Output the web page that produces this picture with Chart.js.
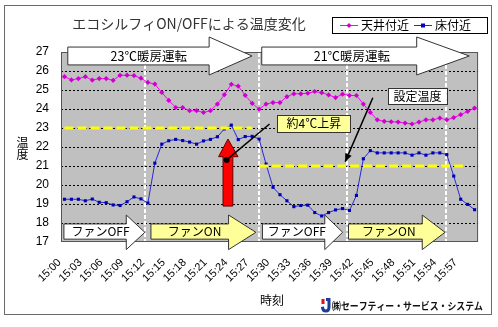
<!DOCTYPE html>
<html><head><meta charset="utf-8">
<script src="https://cdn.jsdelivr.net/npm/chart.js@4/dist/chart.umd.min.js"></script>
<style>html,body{margin:0;padding:0;background:#fff;}canvas{display:block;}</style>
</head><body>
<canvas id="c" width="498" height="327"></canvas>
<script>
// ---------- data ----------
const chartTitle = 'エコシルフィON/OFFによる温度変化';
const xAxisTitle = '時刻';
const yAxisTitle = '温度';
const seriesNames = ['天井付近', '床付近'];
const xLabels = ['15:00','15:01','15:02','15:03','15:04','15:05','15:06','15:07','15:08','15:09',
  '15:10','15:11','15:12','15:13','15:14','15:15','15:16','15:17','15:18','15:19',
  '15:20','15:21','15:22','15:23','15:24','15:25','15:26','15:27','15:28','15:29',
  '15:30','15:31','15:32','15:33','15:34','15:35','15:36','15:37','15:38','15:39',
  '15:40','15:41','15:42','15:43','15:44','15:45','15:46','15:47','15:48','15:49',
  '15:50','15:51','15:52','15:53','15:54','15:55','15:56','15:57','15:58','15:59'];
const ceilingTemp = [25.70,25.53,25.60,25.70,25.52,25.60,25.60,25.51,25.77,25.78,
  25.76,25.62,25.40,25.31,24.87,24.45,24.08,24.08,23.91,23.91,
  23.82,23.91,24.26,24.75,25.30,25.20,24.72,24.30,23.99,24.26,
  24.34,24.34,24.65,24.80,24.80,24.83,24.92,24.86,24.74,24.60,
  24.78,24.71,24.71,24.26,23.82,23.43,23.35,23.33,23.31,23.26,
  23.21,23.31,23.43,23.43,23.52,23.43,23.55,23.70,23.87,24.05];
const floorTemp = [19.25,19.25,19.25,19.17,19.26,19.09,19.07,18.95,18.92,19.12,
  19.37,19.27,19.05,21.15,22.15,22.33,22.40,22.34,22.26,22.15,
  22.32,22.40,22.54,22.95,23.15,22.39,22.55,22.56,22.42,21.10,
  19.88,19.49,19.17,18.86,18.92,18.94,18.55,18.37,18.55,18.69,
  18.76,18.66,19.45,21.38,21.81,21.69,21.69,21.69,21.69,21.69,
  21.57,21.69,21.57,21.69,21.69,21.60,20.47,19.25,18.98,18.70];
const setTemp23 = [23,23,23,23,23,23,23,23,23,23,23,23,23,23,23,23,23,23,23,23,
  23,23,23,23,23,23,23,23,null,null,null,null,null,null,null,null,null,null,null,null,
  null,null,null,null,null,null,null,null,null,null,null,null,null,null,null,null,null,null,null,null];
const setTemp21 = [null,null,null,null,null,null,null,null,null,null,null,null,null,null,null,null,null,null,null,null,
  null,null,null,null,null,null,null,null,21,21,21,21,21,21,21,21,21,21,21,21,
  21,21,21,21,21,21,21,21,21,21,21,21,21,21,21,21,21,21,21,null];
const yMin = 17, yMax = 27, yStep = 1;

// annotations (in data units: x = category index, y = temperature)
const phaseLines = [11.6, 28.0, 40.6, 54.9];
const modeArrows = [
  {label:'23℃暖房運転', x0:0.48, xh:20.81, xt:26.98, tx:12.12},
  {label:'21℃暖房運転', x0:28.38, xh:50.67, xt:58.24, tx:41.35}
];
const modeArrowY = {bt:27.26, bb:26.32, ht:27.79, hb:25.79, ty:26.79};
const fanArrows = [
  {label:'ファンOFF', x0:-0.08, xh:8.89, xt:11.56, tx:5.18, fill:'#ffffff'},
  {label:'ファンON', x0:12.44, xh:23.61, xt:27.54, tx:18.71, fill:'#ffff99'},
  {label:'ファンOFF', x0:28.48, xh:37.45, xt:40.02, tx:33.43, fill:'#ffffff'},
  {label:'ファンON', x0:40.86, xh:51.47, xt:54.74, tx:46.67, fill:'#ffff99'}
];
const fanArrowY = {bt:17.95, bb:17.15, ht:18.42, hb:16.6, ty:17.53};
const riseArrow = {tipX:23.52, tipY:22.42, headY:21.49, headL:22.17, headR:24.97, bodyL:22.81, bodyR:24.22, bottom:18.89};
const riseNote = {text:'約4℃上昇', x0:30.62, x1:41.14, y0:23.68, y1:22.79, dotX:23.33, dotY:21.32, endX:29.5, endY:23.21};
const setNote = {text:'設定温度', x0:46.56, x1:54.98, y0:25.11, y1:24.26, fromX:44.36, fromY:24.59, toX:40.39, toY:21.23};
const companyName = '㈱セーフティー・サービス・システム';

const JP = '"Noto Sans CJK JP", sans-serif';
const NUM = '"Liberation Sans", Arial, sans-serif';

const deco = {
  id: 'deco',
  beforeDraw(chart) {
    const {ctx, chartArea: a, scales: {y}} = chart;
    ctx.save();
    ctx.fillStyle = '#fff';
    ctx.fillRect(0, 0, chart.width, chart.height);
    ctx.strokeStyle = '#6a6a6a'; ctx.lineWidth = 1;
    ctx.strokeRect(4.5, 5.5, 487, 309);
    ctx.fillStyle = '#c0c0c0';
    ctx.fillRect(a.left, a.top, a.right - a.left, a.bottom - a.top);
    ctx.strokeStyle = '#000'; ctx.setLineDash([2, 2]);
    y.ticks.forEach(t => {
      if (t.value === yMin || t.value === yMax) return;
      const py = Math.round(y.getPixelForValue(t.value)) + 0.5;
      ctx.beginPath(); ctx.moveTo(a.left, py); ctx.lineTo(a.right, py); ctx.stroke();
    });
    ctx.setLineDash([]);
    ctx.strokeStyle = '#555';
    ctx.strokeRect(a.left + 0.5, a.top + 0.5, a.right - a.left - 1, a.bottom - a.top - 1);
    ctx.restore();
  },
  beforeDatasetsDraw(chart) {
    const {ctx, chartArea: a, scales: {x}} = chart;
    ctx.save();
    ctx.strokeStyle = '#fff'; ctx.lineWidth = 2; ctx.setLineDash([4, 2]);
    phaseLines.forEach(v => {
      const px = Math.round(x.getPixelForValue(v));
      ctx.beginPath(); ctx.moveTo(px, a.top + 1); ctx.lineTo(px, a.bottom - 1); ctx.stroke();
    });
    ctx.restore();
  },
  afterDraw(chart) {
    const {ctx, scales: {x, y}} = chart;
    const X = v => x.getPixelForValue(v);
    const Y = v => y.getPixelForValue(v);
    ctx.save();
    const poly = (pts, fill, stroke, lw) => {
      ctx.beginPath();
      pts.forEach((p, i) => i ? ctx.lineTo(p[0], p[1]) : ctx.moveTo(p[0], p[1]));
      ctx.closePath();
      ctx.fillStyle = fill; ctx.fill();
      ctx.strokeStyle = stroke; ctx.lineWidth = lw; ctx.stroke();
    };
    const blockArrow = (ar, ay, fill) => {
      const x0 = X(ar.x0), xh = X(ar.xh), xt = X(ar.xt);
      const bt = Y(ay.bt), bb = Y(ay.bb), ht = Y(ay.ht), hb = Y(ay.hb);
      const mid = (ht + hb) / 2;
      poly([[x0, bt], [xh, bt], [xh, ht], [xt, mid], [xh, hb], [xh, bb], [x0, bb]], fill, '#333', 1);
    };
    ctx.textAlign = 'center'; ctx.textBaseline = 'middle';
    modeArrows.forEach(ar => {
      blockArrow(ar, modeArrowY, '#fff');
      ctx.fillStyle = '#000'; ctx.font = '12.5px ' + JP;
      ctx.fillText(ar.label, X(ar.tx), Y(modeArrowY.ty));
    });
    fanArrows.forEach(ar => {
      blockArrow(ar, fanArrowY, ar.fill);
      ctx.fillStyle = '#000'; ctx.font = '12px ' + JP;
      ctx.fillText(ar.label, X(ar.tx), Y(fanArrowY.ty));
    });
    // red rise arrow
    const r = riseArrow;
    poly([[X(r.tipX), Y(r.tipY)], [X(r.headR), Y(r.headY)], [X(r.bodyR), Y(r.headY)], [X(r.bodyR), Y(r.bottom)],
          [X(r.bodyL), Y(r.bottom)], [X(r.bodyL), Y(r.headY)], [X(r.headL), Y(r.headY)]], '#ff0000', '#600', 1);
    // rise callout
    const n = riseNote;
    ctx.strokeStyle = '#000'; ctx.lineWidth = 1.5;
    ctx.beginPath(); ctx.moveTo(X(n.dotX), Y(n.dotY)); ctx.lineTo(X(n.endX), Y(n.endY)); ctx.stroke();
    ctx.fillStyle = '#000';
    ctx.beginPath(); ctx.arc(X(n.dotX), Y(n.dotY), 3, 0, Math.PI * 2); ctx.fill();
    ctx.fillStyle = '#ffff99'; ctx.fillRect(X(n.x0), Y(n.y0), X(n.x1) - X(n.x0), Y(n.y1) - Y(n.y0));
    ctx.strokeStyle = '#333'; ctx.lineWidth = 1;
    ctx.strokeRect(Math.round(X(n.x0)) + 0.5, Math.round(Y(n.y0)) + 0.5, Math.round(X(n.x1) - X(n.x0)), Math.round(Y(n.y1) - Y(n.y0)));
    ctx.fillStyle = '#000'; ctx.font = '12px ' + JP;
    ctx.fillText(n.text, (X(n.x0) + X(n.x1)) / 2, (Y(n.y0) + Y(n.y1)) / 2);
    // set-point callout
    const s = setNote;
    const fx = X(s.fromX), fy = Y(s.fromY), tx = X(s.toX), ty = Y(s.toY);
    ctx.strokeStyle = '#000'; ctx.lineWidth = 1.5;
    ctx.beginPath(); ctx.moveTo(fx, fy); ctx.lineTo(tx, ty); ctx.stroke();
    const ang = Math.atan2(ty - fy, tx - fx);
    ctx.fillStyle = '#000'; ctx.beginPath();
    ctx.moveTo(tx, ty);
    ctx.lineTo(tx - 8 * Math.cos(ang) + 3.5 * Math.sin(ang), ty - 8 * Math.sin(ang) - 3.5 * Math.cos(ang));
    ctx.lineTo(tx - 8 * Math.cos(ang) - 3.5 * Math.sin(ang), ty - 8 * Math.sin(ang) + 3.5 * Math.cos(ang));
    ctx.closePath(); ctx.fill();
    ctx.fillStyle = '#fff'; ctx.fillRect(X(s.x0), Y(s.y0), X(s.x1) - X(s.x0), Y(s.y1) - Y(s.y0));
    ctx.strokeStyle = '#333'; ctx.lineWidth = 1;
    ctx.strokeRect(Math.round(X(s.x0)) + 0.5, Math.round(Y(s.y0)) + 0.5, Math.round(X(s.x1) - X(s.x0)), Math.round(Y(s.y1) - Y(s.y0)));
    ctx.fillStyle = '#000'; ctx.font = '12px ' + JP;
    ctx.fillText(s.text, (X(s.x0) + X(s.x1)) / 2, (Y(s.y0) + Y(s.y1)) / 2);

    // title
    ctx.fillStyle = '#333'; ctx.font = '14px ' + JP;
    ctx.fillText(chartTitle, 189, 24);
    // legend
    ctx.fillStyle = '#fff'; ctx.fillRect(332, 17, 156, 16);
    ctx.strokeStyle = '#000'; ctx.lineWidth = 1; ctx.strokeRect(332.5, 17.5, 155, 16);
    const leg = [[340, '#ff00ff', '#d000d0', 'd'], [414, '#2828d8', '#0000b4', 's']];
    ctx.textAlign = 'left'; ctx.font = '12px ' + JP;
    seriesNames.forEach((name, i) => {
      const [lx, lc, mc, m] = leg[i];
      ctx.strokeStyle = lc; ctx.beginPath(); ctx.moveTo(lx, 25.5); ctx.lineTo(lx + 18, 25.5); ctx.stroke();
      ctx.fillStyle = mc; ctx.beginPath();
      if (m === 'd') { ctx.moveTo(lx + 9, 23); ctx.lineTo(lx + 11.5, 25.5); ctx.lineTo(lx + 9, 28); ctx.lineTo(lx + 6.5, 25.5); }
      else { ctx.rect(lx + 7, 23.5, 4, 4); }
      ctx.fill();
      ctx.fillStyle = '#000'; ctx.fillText(name, lx + 21, 25.5);
    });
    // axis titles
    ctx.textAlign = 'center'; ctx.font = '12px ' + JP;
    ctx.fillText(xAxisTitle, 272, 300);
    [...yAxisTitle].forEach((ch, i) => ctx.fillText(ch, 22.5, 142 + i * 12.5));
    // company logo
    ctx.fillStyle = '#1a3c9c'; ctx.beginPath();
    ctx.moveTo(326, 298); ctx.lineTo(330.5, 298); ctx.lineTo(330.5, 307);
    ctx.quadraticCurveTo(330.5, 312.5, 326, 312.5); ctx.quadraticCurveTo(321, 312.5, 321, 307);
    ctx.lineTo(324, 306.5); ctx.quadraticCurveTo(324, 309.5, 326, 309.5); ctx.quadraticCurveTo(327.5, 309.5, 327.5, 307);
    ctx.lineTo(327.5, 301); ctx.lineTo(326, 301); ctx.closePath(); ctx.fill();
    ctx.fillStyle = '#e01010'; ctx.fillRect(321.5, 299, 3, 5);
    ctx.fillStyle = '#111'; ctx.textAlign = 'left'; ctx.font = 'bold 10px ' + JP;
    ctx.fillText(companyName, 332, 306, 151);
    ctx.restore();
  }
};

new Chart(document.getElementById('c'), {
  type: 'line',
  data: {
    labels: xLabels,
    datasets: [
      {label: '設定温度23', data: setTemp23, borderColor: '#ffff00', borderWidth: 3, borderDash: [9, 4], pointRadius: 0, order: 0, spanGaps: false},
      {label: '設定温度21', data: setTemp21, borderColor: '#ffff00', borderWidth: 3, borderDash: [9, 4], pointRadius: 0, order: 0, spanGaps: false},
      {label: seriesNames[0], data: ceilingTemp, borderColor: '#ff00ff', borderWidth: 1, pointStyle: 'rectRot', pointRadius: 2.6,
       pointBackgroundColor: '#d000d0', pointBorderColor: '#d000d0', pointBorderWidth: 0, order: 1},
      {label: seriesNames[1], data: floorTemp, borderColor: '#2828d8', borderWidth: 1, pointStyle: 'rect', pointRadius: 2.2,
       pointBackgroundColor: '#0000b4', pointBorderColor: '#0000b4', pointBorderWidth: 0, order: 1}
    ]
  },
  options: {
    responsive: false, animation: false, devicePixelRatio: 1,
    layout: {padding: {left: 0, right: 9, top: 52, bottom: 0}},
    plugins: {legend: {display: false}, tooltip: {enabled: false}, title: {display: false}},
    elements: {line: {tension: 0}},
    scales: {
      x: {
        type: 'category', offset: true,
        grid: {display: false, drawTicks: false}, border: {display: false},
        ticks: {autoSkip: false, maxRotation: 45, minRotation: 45, padding: 14, labelOffset: -5,
          font: {size: 11, family: NUM}, color: '#000',
          callback: function (v, i) { return i % 3 === 0 ? this.getLabelForValue(v) : ''; }},
        afterFit(s) { s.height = 85; }
      },
      y: {
        min: yMin, max: yMax,
        grid: {display: false, drawTicks: false}, border: {display: false},
        ticks: {stepSize: yStep, padding: 12, font: {size: 12, family: NUM}, color: '#000'},
        afterFit(s) { s.width = 61; }
      }
    }
  },
  plugins: [deco]
});
</script>
</body></html>
